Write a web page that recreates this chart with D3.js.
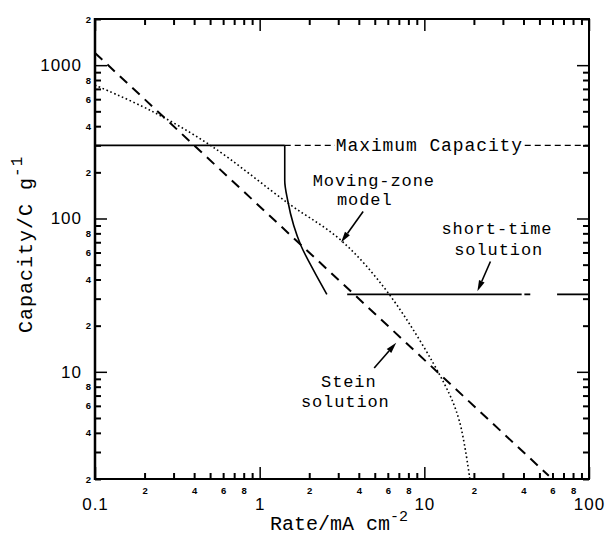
<!DOCTYPE html>
<html>
<head>
<meta charset="utf-8">
<script src="https://cdn.jsdelivr.net/npm/d3@7"></script>
<style>
  body { margin: 0; background: #fff; }
  svg { display: block; }
  .mono { font-family: 'Liberation Mono', 'DejaVu Sans Mono', monospace; fill: #000; }
  .tick line { stroke: #000; }
</style>
</head>
<body>
<svg id="chart" width="607" height="536"></svg>
<script>
// axis domains
const rateDomain = [0.1, 100]
const capDomain = [2, 2000]

// Maximum capacity (solid to the drop, dashed after)
const maxCapValue = 300
const maxCapSolidX = [0.1, 1.42]
const maxCapDashX = [1.42, 100]

// drop from maximum capacity
const dropX = [1.42, 1.42, 1.48, 1.61, 1.78, 2.13, 2.56]
const dropY = [300, 177, 131, 90, 66.7, 45.7, 32]

// Moving-zone model (dotted)
const zoneX = [0.1, 0.216, 0.502, 1.5, 3.12, 6.12, 13.2, 16.3, 18.9]
const zoneY = [741, 508, 300, 125, 72, 32, 8.4, 4.8, 2]

// Stein solution (dashed)
const steinX = [0.1, 57]
const steinY = [1200, 2.1]

// short-time solution
const shortTimeValue = 32
const shortTimeSegments = [[3.4, 39], [40.5, 44], [64, 100]]

// tick values
const rateMajor = [0.1, 1, 10, 100]
const capMajor = [10, 100, 1000]

// annotations: text, x, y (data units, left/baseline)
const labels = [
  ['Moving-zone', 2.10, 164],
  ['model', 2.95, 122],
  ['short-time', 12.7, 78.7],
  ['solution', 15.2, 58.2],
  ['Stein', 2.36, 7.98],
  ['solution', 1.78, 5.91]
]
const arrows = [
  [[4.25, 111], [3.12, 69.7]],
  [[25.2, 52.4], [21.0, 33.5]],
  [[4.96, 10.6], [6.75, 15.5]]
]

const plotLeft = 95, plotRight = 589, plotTop = 19, plotBottom = 479

const svg = d3.select('#chart')
const x = d3.scaleLog().domain(rateDomain).range([plotLeft, plotRight])
const y = d3.scaleLog().domain(capDomain).range([plotBottom, plotTop])

function minorValues(domain) {
  const out = []
  for (let p = -1; p <= 3; p++) {
    for (let m = 2; m <= 9; m++) {
      const v = +(m * Math.pow(10, p)).toPrecision(3)
      if (v >= domain[0] && v <= domain[1]) out.push(v)
    }
  }
  return out
}
const minorFmt = function (v) {
  const lead = +v.toExponential().charAt(0)
  return lead % 2 === 0 ? String(lead) : ''
}

const rateMinor = minorValues(rateDomain)
const capMinor = minorValues(capDomain)

function styleAxis(g, size, weight) {
  g.select('.domain').remove()
  g.selectAll('.tick line').attr('stroke-width', weight)
  g.selectAll('text')
    .attr('fill', '#000')
    .style('font-family', "'Liberation Sans', Arial, sans-serif")
    .style('font-size', size + 'px')
}

// bottom axis
svg.append('g')
  .attr('transform', `translate(0,${plotBottom})`)
  .call(d3.axisBottom(x).tickValues(rateMinor).tickSize(-6).tickPadding(8).tickFormat(minorFmt))
  .call(g => styleAxis(g, 9.5, 2))
  .call(g => g.selectAll('text').style('font-weight', 'bold'))
svg.append('g')
  .attr('transform', `translate(0,${plotBottom})`)
  .call(d3.axisBottom(x).tickValues(rateMajor).tickSize(-12).tickPadding(19).tickFormat(d3.format('~g')))
  .call(g => styleAxis(g, 17, 1.5))
  .call(g => g.selectAll('text').attr('letter-spacing', 1))

// left axis
svg.append('g')
  .attr('transform', `translate(${plotLeft},0)`)
  .call(d3.axisLeft(y).tickValues(capMinor).tickSize(-6).tickPadding(4).tickFormat(minorFmt))
  .call(g => styleAxis(g, 9.5, 2))
  .call(g => g.selectAll('text').style('font-weight', 'bold'))
svg.append('g')
  .attr('transform', `translate(${plotLeft},0)`)
  .call(d3.axisLeft(y).tickValues(capMajor).tickSize(-12).tickPadding(13).tickFormat(d3.format('~g')))
  .call(g => styleAxis(g, 17, 1.5))
  .call(g => g.selectAll('text').attr('letter-spacing', 1))

// top + right axes (ticks only)
svg.append('g')
  .attr('transform', `translate(0,${plotTop})`)
  .call(d3.axisTop(x).tickValues(rateMinor).tickSize(-6).tickFormat(''))
  .call(g => styleAxis(g, 9, 2))
svg.append('g')
  .attr('transform', `translate(0,${plotTop})`)
  .call(d3.axisTop(x).tickValues(rateMajor).tickSize(-12).tickFormat(''))
  .call(g => styleAxis(g, 9, 1.5))
svg.append('g')
  .attr('transform', `translate(${plotRight},0)`)
  .call(d3.axisRight(y).tickValues(capMinor).tickSize(-6).tickFormat(''))
  .call(g => styleAxis(g, 9, 2))
svg.append('g')
  .attr('transform', `translate(${plotRight},0)`)
  .call(d3.axisRight(y).tickValues(capMajor).tickSize(-12).tickFormat(''))
  .call(g => styleAxis(g, 9, 1.5))

// frame
const frame = svg.append('g').attr('stroke', '#000').attr('fill', 'none')
frame.append('line').attr('x1', plotLeft).attr('x2', plotLeft).attr('y1', plotTop - 1).attr('y2', plotBottom + 1).attr('stroke-width', 2.5)
frame.append('line').attr('x1', plotLeft).attr('x2', plotRight).attr('y1', plotBottom).attr('y2', plotBottom).attr('stroke-width', 2)
frame.append('line').attr('x1', plotLeft).attr('x2', plotRight).attr('y1', plotTop).attr('y2', plotTop).attr('stroke-width', 2)
frame.append('line').attr('x1', plotRight).attr('x2', plotRight).attr('y1', plotTop - 1).attr('y2', plotBottom + 1).attr('stroke-width', 2)

const line = d3.line().x(d => x(d[0])).y(d => y(d[1]))
const zip = (xs, ys) => xs.map((v, i) => [v, ys[i]])

const plot = svg.append('g').attr('fill', 'none').attr('stroke', '#000')

// Stein (dashed)
plot.append('path')
  .attr('d', line(zip(steinX, steinY)))
  .attr('stroke-width', 2)
  .attr('stroke-dasharray', '10,7')

// moving-zone (dotted)
plot.append('path')
  .attr('d', line.curve(d3.curveCatmullRom)(zip(zoneX, zoneY)))
  .attr('stroke-width', 1.6)
  .attr('stroke-dasharray', '1.6,2.6')
line.curve(d3.curveLinear)

// max capacity
plot.append('path')
  .attr('d', line(maxCapSolidX.map(v => [v, maxCapValue])))
  .attr('stroke-width', 1.6)
plot.append('path')
  .attr('d', line(maxCapDashX.map(v => [v, maxCapValue])))
  .attr('stroke-width', 1.4)
  .attr('stroke-dasharray', '6,4')

// drop curve
plot.append('path')
  .attr('d', line.curve(d3.curveMonotoneY)(zip(dropX, dropY)))
  .attr('stroke-width', 1.6)
line.curve(d3.curveLinear)

// short-time solution
shortTimeSegments.forEach(function (seg) {
  plot.append('path')
    .attr('d', line(seg.map(v => [v, shortTimeValue])))
    .attr('stroke-width', 1.8)
})

// Maximum Capacity label over the dashed line
const maxLabel = svg.append('g')
const maxText = maxLabel.append('text')
  .attr('class', 'mono')
  .attr('x', x(2.9))
  .attr('y', y(maxCapValue) + 5.5)
  .style('font-size', '18px')
  .attr('letter-spacing', 0.9)
  .text('Maximum Capacity')
const bb = maxText.node().getBBox()
maxLabel.insert('rect', 'text')
  .attr('x', bb.x - 1).attr('y', y(maxCapValue) - 3)
  .attr('width', bb.width + 2).attr('height', 6)
  .attr('fill', '#fff')

// annotations
svg.append('g').selectAll('text')
  .data(labels)
  .join('text')
  .attr('class', 'mono')
  .attr('x', d => x(d[1]))
  .attr('y', d => y(d[2]))
  .style('font-size', '17px')
  .attr('letter-spacing', 0.9)
  .text(d => d[0])

arrows.forEach(function (a) {
  const x0 = x(a[0][0]), y0 = y(a[0][1]), x1 = x(a[1][0]), y1 = y(a[1][1])
  const ang = Math.atan2(y1 - y0, x1 - x0)
  const len = 11, hw = 3
  const bx = x1 - len * Math.cos(ang), by = y1 - len * Math.sin(ang)
  svg.append('line')
    .attr('x1', x0).attr('y1', y0).attr('x2', bx).attr('y2', by)
    .attr('stroke', '#000').attr('stroke-width', 1.6)
  svg.append('path')
    .attr('d', d3.line()([
      [x1, y1],
      [bx + hw * Math.sin(ang), by - hw * Math.cos(ang)],
      [bx - hw * Math.sin(ang), by + hw * Math.cos(ang)]
    ]) + 'Z')
    .attr('fill', '#000')
})

// axis titles
const xt = svg.append('text')
  .attr('class', 'mono')
  .attr('x', 270)
  .attr('y', 530)
  .style('font-size', '20px')
xt.append('tspan').text('Rate/mA cm')
xt.append('tspan').attr('dy', -9).style('font-size', '15px').text('-2')

const yt = svg.append('text')
  .attr('class', 'mono')
  .attr('transform', 'translate(32,333) rotate(-90)')
  .style('font-size', '20px')
  .attr('letter-spacing', 1)
yt.append('tspan').text('Capacity/C g')
yt.append('tspan').attr('dy', -10).style('font-size', '16px').text('-1')
</script>
</body>
</html>
